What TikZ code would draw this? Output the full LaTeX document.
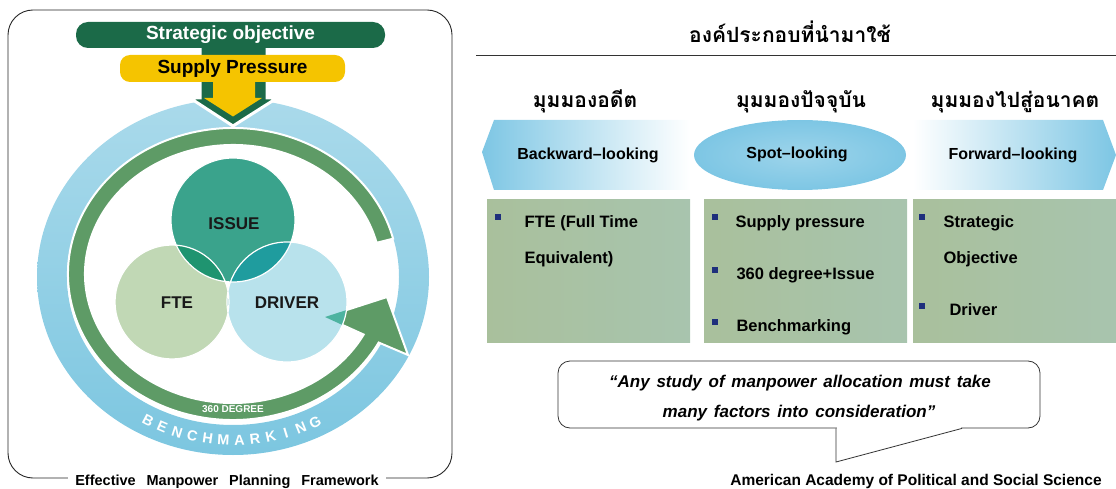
\documentclass[tikz,border=0pt]{standalone}
\usepackage{fontspec}
\setmainfont{Liberation Sans}
\newfontfamily\thaifont[Script=Thai]{Loma}
\usetikzlibrary{calc}
\definecolor{bargreen}{HTML}{1B6A48}
\definecolor{supplyyellow}{HTML}{F5C400}
\definecolor{ringblue}{HTML}{7CC6E0}
\definecolor{ringgreen}{HTML}{5E9B66}
\definecolor{issuecol}{HTML}{3AA38C}
\definecolor{ftecol}{HTML}{C1D8B5}
\definecolor{drivercol}{HTML}{B8E2EC}
\definecolor{issuefte}{HTML}{1F9470}
\definecolor{issuedriver}{HTML}{1F9C9E}
\definecolor{ftedriver}{HTML}{9ED0D0}
\definecolor{vennmid}{HTML}{2E9F93}
\definecolor{headteal}{HTML}{4DB3A0}
\definecolor{skyblue}{HTML}{7DC6E4}
\definecolor{boxgreen}{HTML}{A9C09C}
\definecolor{boxblue}{HTML}{A8C4AE}
\definecolor{bulletblue}{HTML}{1E2F7C}

\begin{document}
\begin{tikzpicture}[x=1pt,y=1pt,
  venntext/.style={font=\fontsize{17}{19}\selectfont\bfseries, text=black!90},
  thaihead/.style={font=\thaifont\bfseries\fontsize{21}{25}\selectfont, anchor=base},
  looktext/.style={font=\fontsize{16}{18}\selectfont\bfseries},
  itemtext/.style={font=\fontsize{16.5}{19}\selectfont\bfseries, anchor=base west},
  bullet/.style={fill=bulletblue, minimum size=6pt, inner sep=0pt},
  benchletter/.style={font=\fontsize{14.5}{16}\selectfont\bfseries, text=white},
  quotetext/.style={font=\fontsize{17}{19}\selectfont\bfseries\itshape, anchor=base}]
\useasboundingbox (0,0) rectangle (1116,488);

%% left panel
\draw[black!85, line width=0.9pt, rounded corners=25pt] (8,10) rectangle (452,478);
\shade[top color=ringblue!65!white, bottom color=ringblue, even odd rule]
  (233,211) ellipse [x radius=196, y radius=178] (233,211) ellipse [x radius=166, y radius=148];
\begin{scope}[shift={(233,214)}]
\filldraw[fill=ringgreen, draw=white, line width=2pt]
  (14:165 and 146) arc[start angle=14, end angle=332, x radius=165, y radius=146]
  -- (175,-81) -- (154,-23) -- (92,-43)
  -- (332:148 and 129) arc[start angle=332, end angle=14, x radius=148, y radius=129] -- cycle;
\end{scope}

\coordinate (issue) at (233,268);
\coordinate (fte) at (172,186);
\coordinate (driver) at (287,186);
\fill[issuecol] (issue) circle[radius=62];
\fill[ftecol] (fte) circle[radius=57];
\fill[drivercol] (driver) circle[radius=60];
\begin{scope}
  \clip (fte) circle[radius=57];
  \fill[ftedriver] (driver) circle[radius=60];
\end{scope}
\begin{scope}
  \clip (issue) circle[radius=62];
  \fill[issuefte] (fte) circle[radius=57];
  \fill[issuedriver] (driver) circle[radius=60];
  \clip (fte) circle[radius=57];
  \fill[vennmid] (driver) circle[radius=60];
\end{scope}
\begin{scope}
  \clip (driver) circle[radius=60];
  \fill[headteal] (325,171) -- (387,191) -- (408,133) -- cycle;
\end{scope}
\draw[white, line width=1.2pt] (fte) circle[radius=57] (driver) circle[radius=60] (issue) circle[radius=62];

\node[venntext] (issuelbl) at (234,264) {ISSUE};
\node[venntext] (ftelbl) at (177,185) {FTE};
\node[venntext] (driverlbl) at (287,185) {DRIVER};

\node[font=\fontsize{10}{11}\selectfont\bfseries, text=white] (degree) at (233,79) {360 DEGREE};
\foreach \l [count=\i] in {B,E,N,C,H,M,A,R,K,I,N,G}
  \node[benchletter, rotate=327+5*\i] (bench\i) at ($(233,211)+({237+5*\i}:181 and 163)$) {\l};

\filldraw[fill=bargreen, draw=white, line width=3pt]
  (200,450) -- (200,390) -- (190,390) -- (233,362) -- (277,390) -- (267,390) -- (267,450);
\node[fill=bargreen, rounded corners=12pt, minimum width=309pt, minimum height=26pt,
  text=white, font=\fontsize{19}{21}\selectfont\bfseries] (strategic) at (230.5,453) {Strategic objective};
\node[fill=supplyyellow, rounded corners=10pt, minimum width=225pt, minimum height=27pt,
  font=\fontsize{19}{21}\selectfont\bfseries] (supply) at (232.5,419.5) {Supply Pressure};
\fill[supplyyellow] (213,410) -- (213,390) -- (204,390) -- (233,371.5) -- (262,390) -- (255,390) -- (255,410) -- cycle;

\node[fill=white, inner xsep=7pt, anchor=base, font=\fontsize{14.5}{16}\selectfont\bfseries]
  (framecap) at (227,3) {Effective\hspace{0.75em}Manpower\hspace{0.75em}Planning\hspace{0.75em}Framework};

%% right panel
\node[thaihead] (compo) at (790,445) {องค์ประกอบที่นำมาใช้};
\draw[black!80, line width=0.8pt] (476,433) -- (1116,433);

\node[thaihead] (past) at (585,380) {มุมมองอดีต};
\node[thaihead] (present) at (801,380) {มุมมองปัจจุบัน};
\node[thaihead] (future) at (1015,380) {มุมมองไปสู่อนาคต};

\shade[left color=skyblue, middle color=skyblue!55, right color=white]
  (482,336) -- (494,368) -- (690,368) -- (690,298) -- (494,298) -- cycle;
\shade[inner color=skyblue!75, outer color=skyblue] (800,333) ellipse [x radius=106, y radius=35];
\shade[left color=white, middle color=skyblue!55, right color=skyblue]
  (913,368) -- (1103,368) -- (1116,333) -- (1103,298) -- (913,298) -- cycle;
\node[looktext] (backward) at (588,333) {Backward–looking};
\node[looktext] (spot) at (797,334) {Spot–looking};
\node[looktext] (forward) at (1013,333) {Forward–looking};

\foreach \bx in {487,704,913}
  \shade[left color=boxgreen, right color=boxblue] (\bx,146) rectangle ++(203,142);
\foreach \n/\bx/\by in {1/498/270.5, 2/714.5/270.5, 3/714.5/218.5, 4/714.5/166.5, 5/922/270.5, 6/922/182.5}
  \node[bullet] (dot\n) at (\bx,\by) {};
\node[itemtext] (fteitem) at (521,261) {FTE (Full Time};
\node[itemtext] (fteitemb) at (521,225) {Equivalent)};
\node[itemtext] (supplyitem) at (732,261) {Supply pressure};
\node[itemtext] (degreeitem) at (733,209) {360 degree+Issue};
\node[itemtext] (benchitem) at (733,157) {Benchmarking};
\node[itemtext] (stratitem) at (940,261) {Strategic};
\node[itemtext] (stratitemb) at (940,225) {Objective};
\node[itemtext] (driveritem) at (946,173) {Driver};

\node[draw=black!80, line width=0.8pt, rounded corners=12pt, minimum width=482pt,
  minimum height=67pt, inner sep=0pt] (quote) at (799,93.5) {};
\coordinate (tailtip) at (836,26);
\fill[white] (836.6,59) rectangle (961,61.5);
\draw[black!80, line width=0.8pt] (quote.south -| tailtip) -- (tailtip) -- ($(quote.south)+(163,0)$);
\node[quotetext] (quoteA) at (800,101) {“Any\hspace{0.4em}study\hspace{0.4em}of\hspace{0.4em}manpower\hspace{0.4em}allocation\hspace{0.4em}must\hspace{0.4em}take};
\node[quotetext] (quoteB) at (799,71) {many\hspace{0.4em}factors\hspace{0.4em}into\hspace{0.4em}consideration”};

\node[anchor=base, font=\fontsize{15.5}{17}\selectfont\bfseries] (source) at (916,3)
  {American Academy of Political and Social Science};
\end{tikzpicture}
\end{document}
